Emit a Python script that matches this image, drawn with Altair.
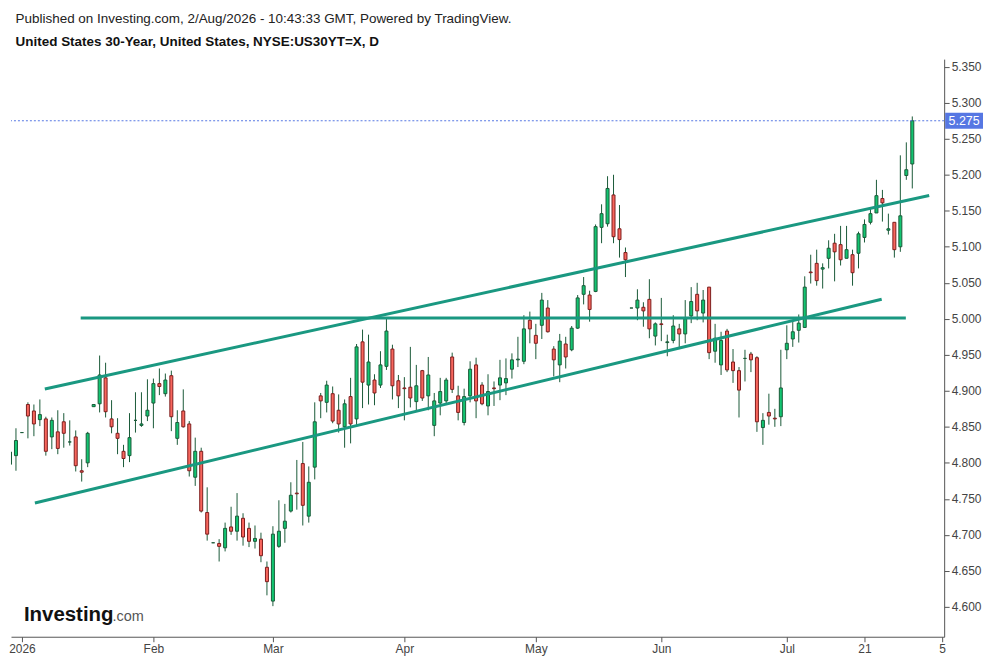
import altair as alt
import pandas as pd

# ---- daily candles (trading-day index, OHLC in %) ----
opens = [4.798, 4.810, 4.842, 4.881, 4.872, 4.860, 4.861, 4.836, 4.843, 4.857,
         4.829, 4.836, 4.789, 4.800, 4.878, 4.882, 4.918, 4.861, 4.841, 4.816,
         4.810, 4.859, 4.852, 4.865, 4.883, 4.910, 4.896, 4.921, 4.834, 4.872,
         4.854, 4.780, 4.816, 4.731, 4.689, 4.688, 4.682, 4.711, 4.705, 4.723,
         4.709, 4.691, 4.694, 4.655, 4.608, 4.684, 4.709, 4.733, 4.758, 4.799,
         4.726, 4.794, 4.893, 4.884, 4.896, 4.873, 4.850, 4.892, 4.861, 4.968,
         4.908, 4.915, 4.908, 4.934, 4.958, 4.914, 4.904, 4.905, 4.885, 4.928,
         4.893, 4.852, 4.883, 4.886, 4.947, 4.893, 4.856, 4.893, 4.936, 4.908,
         4.879, 4.904, 4.908, 4.911, 4.930, 4.943, 4.941, 4.998, 4.977, 4.991,
         5.015, 4.958, 4.936, 4.965, 4.957, 4.987, 5.034, 5.033, 5.038, 5.127,
         5.132, 5.172, 5.125, 5.092, 5.015, 5.015, 5.016, 5.027, 4.976, 4.993,
         4.967, 4.970, 4.986, 4.979, 5.004, 5.034, 5.008, 5.044, 4.955, 4.936,
         4.983, 4.940, 4.928, 4.945, 4.951, 4.946, 4.849, 4.870, 4.862, 4.864,
         4.957, 4.972, 4.984, 4.988, 5.065, 5.077, 5.069, 5.084, 5.105, 5.103,
         5.084, 5.089, 5.091, 5.113, 5.134, 5.147, 5.167, 5.123, 5.134, 5.100,
         5.199, 5.215]
highs = [4.820, 4.848, 4.842, 4.884, 4.881, 4.888, 4.864, 4.863, 4.873, 4.869,
         4.859, 4.845, 4.805, 4.843, 4.881, 4.949, 4.939, 4.887, 4.862, 4.825,
         4.869, 4.898, 4.898, 4.916, 4.917, 4.931, 4.924, 4.928, 4.873, 4.902,
         4.858, 4.835, 4.821, 4.766, 4.689, 4.694, 4.717, 4.739, 4.758, 4.730,
         4.717, 4.713, 4.703, 4.663, 4.712, 4.748, 4.743, 4.773, 4.804, 4.829,
         4.795, 4.884, 4.897, 4.914, 4.906, 4.895, 4.888, 4.918, 4.965, 4.985,
         4.978, 4.923, 4.955, 5.001, 4.964, 4.922, 4.919, 4.961, 4.936, 4.929,
         4.947, 4.897, 4.918, 4.918, 4.953, 4.907, 4.903, 4.941, 4.946, 4.912,
         4.923, 4.913, 4.943, 4.945, 4.952, 4.975, 5.005, 5.010, 4.993, 5.036,
         5.026, 4.962, 4.979, 4.975, 4.990, 5.033, 5.058, 5.039, 5.131, 5.159,
         5.198, 5.200, 5.158, 5.099, 5.015, 5.041, 5.023, 5.055, 4.995, 5.029,
         4.978, 5.005, 4.993, 5.026, 5.044, 5.050, 5.040, 5.044, 4.993, 4.982,
         4.986, 4.958, 4.933, 4.957, 4.954, 4.948, 4.869, 4.896, 4.875, 4.957,
         4.991, 4.998, 5.006, 5.059, 5.089, 5.096, 5.077, 5.109, 5.118, 5.129,
         5.129, 5.096, 5.121, 5.138, 5.154, 5.193, 5.179, 5.146, 5.134, 5.227,
         5.245, 5.281]
lows = [4.792, 4.789, 4.842, 4.834, 4.837, 4.851, 4.810, 4.819, 4.812, 4.821,
        4.824, 4.788, 4.774, 4.794, 4.878, 4.870, 4.863, 4.841, 4.812, 4.794,
        4.801, 4.842, 4.850, 4.858, 4.848, 4.894, 4.892, 4.844, 4.825, 4.849,
        4.781, 4.768, 4.731, 4.692, 4.689, 4.663, 4.677, 4.700, 4.692, 4.685,
        4.683, 4.681, 4.662, 4.616, 4.601, 4.682, 4.689, 4.731, 4.735, 4.713,
        4.717, 4.777, 4.862, 4.870, 4.855, 4.842, 4.821, 4.827, 4.852, 4.876,
        4.881, 4.880, 4.904, 4.929, 4.888, 4.876, 4.859, 4.877, 4.872, 4.886,
        4.873, 4.837, 4.866, 4.883, 4.897, 4.859, 4.852, 4.884, 4.862, 4.880,
        4.866, 4.879, 4.887, 4.894, 4.917, 4.933, 4.937, 4.966, 4.944, 4.972,
        4.981, 4.920, 4.912, 4.931, 4.955, 4.986, 5.020, 4.996, 5.037, 5.105,
        5.128, 5.105, 5.085, 5.058, 5.015, 4.998, 4.989, 4.973, 4.963, 4.969,
        4.948, 4.966, 4.958, 4.966, 4.994, 4.998, 4.995, 4.944, 4.939, 4.922,
        4.926, 4.911, 4.863, 4.913, 4.926, 4.843, 4.825, 4.853, 4.850, 4.851,
        4.944, 4.961, 4.967, 4.988, 5.049, 5.046, 5.042, 5.070, 5.052, 5.074,
        5.084, 5.046, 5.070, 5.106, 5.131, 5.147, 5.135, 5.117, 5.085, 5.093,
        5.193, 5.181]
closes = [4.815, 4.831, 4.842, 4.865, 4.854, 4.867, 4.816, 4.859, 4.820, 4.841,
          4.829, 4.796, 4.787, 4.841, 4.881, 4.922, 4.871, 4.850, 4.834, 4.806,
          4.835, 4.859, 4.854, 4.873, 4.910, 4.906, 4.915, 4.864, 4.856, 4.850,
          4.789, 4.816, 4.733, 4.701, 4.689, 4.684, 4.709, 4.705, 4.726, 4.697,
          4.691, 4.695, 4.671, 4.635, 4.701, 4.705, 4.719, 4.755, 4.757, 4.741,
          4.773, 4.857, 4.886, 4.908, 4.858, 4.854, 4.882, 4.854, 4.961, 4.912,
          4.940, 4.897, 4.936, 4.983, 4.907, 4.893, 4.903, 4.890, 4.907, 4.890,
          4.922, 4.886, 4.899, 4.915, 4.902, 4.870, 4.892, 4.930, 4.886, 4.882,
          4.899, 4.903, 4.918, 4.917, 4.943, 4.944, 4.986, 4.986, 4.966, 5.026,
          4.982, 4.943, 4.969, 4.947, 4.987, 5.029, 5.046, 5.013, 5.128, 5.146,
          5.181, 5.114, 5.110, 5.082, 5.015, 5.026, 5.011, 4.986, 4.993, 4.992,
          4.968, 4.990, 4.979, 5.000, 5.024, 5.011, 5.026, 4.953, 4.973, 4.970,
          4.929, 4.928, 4.901, 4.945, 4.943, 4.857, 4.859, 4.865, 4.861, 4.904,
          4.966, 4.982, 4.994, 5.044, 5.064, 5.053, 5.071, 5.098, 5.093, 5.082,
          5.096, 5.064, 5.118, 5.131, 5.146, 5.171, 5.161, 5.125, 5.096, 5.143,
          5.207, 5.275]

# ---- x-axis labels (bar index of first bar of each period) ----
tick_index = [2, 24, 44, 66, 88, 109, 130, 143, 156]
tick_labels = ["2026", "Feb", "Mar", "Apr", "May", "Jun", "Jul", "21", "5"]

# ---- y-axis ticks ----
y_ticks = [4.60, 4.65, 4.70, 4.75, 4.80, 4.85, 4.90, 4.95, 5.00,
           5.05, 5.10, 5.15, 5.20, 5.25, 5.30, 5.35]

# ---- trend lines drawn on the chart (bar index, yield) ----
line_ids = ["upper", "upper", "lower", "lower", "flat", "flat"]
line_x = [5.83, 153.83, 4.17, 145.88, 11.83, 149.92]
line_y = [4.9025, 5.1713, 4.7442, 5.0271, 5.001, 5.001]

df = pd.DataFrame({"idx": list(range(len(opens))), "open": opens, "high": highs,
                   "low": lows, "close": closes})
df["dir"] = ["up" if c >= o else "down" for o, c in zip(opens, closes)]
lines_df = pd.DataFrame({"id": line_ids, "x": line_x, "y": line_y})
last_df = pd.DataFrame({"close": [closes[-1]]})

FONT = "Liberation Sans"
GREEN, GREEN_DARK = "#12c571", "#1a5a38"
RED, RED_DARK = "#f8665d", "#7c1d1d"
TEAL = "#1a9881"
BLUE = "#5677e3"

label_expr = " : ".join(f"datum.value == {v} ? '{l}'" for v, l in zip(tick_index, tick_labels)) + " : ''"

xscale = alt.Scale(domain=[1 / 6, 938 / 6], nice=False, zero=False, padding=0)
yscale = alt.Scale(domain=[4.5585, 5.3606], nice=False, zero=False, padding=0)
xaxis = alt.Axis(values=tick_index, labelExpr=label_expr, grid=False, title=None,
                 domainColor="#555", tickColor="#555", tickSize=5, labelPadding=2,
                 labelColor="#444", labelFontSize=12, labelFont=FONT,
                 labelFlush=False, labelOverlap=False)
yaxis = alt.Axis(orient="right", values=y_ticks, format=".3f", grid=False, title=None,
                 domainColor="#555", tickColor="#555", tickSize=5, labelPadding=2,
                 labelColor="#444", labelFontSize=12, labelFont=FONT, labelOverlap=False)

base = alt.Chart(df).encode(x=alt.X("idx:Q", scale=xscale, axis=xaxis))

wicks = base.mark_rule(color=GREEN_DARK, strokeWidth=1, clip=True).encode(
    y=alt.Y("low:Q", scale=yscale, axis=yaxis), y2="high:Q")

bodies = base.mark_bar(size=3, strokeWidth=1, clip=True).encode(
    y=alt.Y("open:Q", scale=yscale, axis=yaxis), y2="close:Q",
    fill=alt.Fill("dir:N", scale=alt.Scale(domain=["up", "down"], range=[GREEN, RED]), legend=None),
    stroke=alt.Stroke("dir:N", scale=alt.Scale(domain=["up", "down"], range=[GREEN_DARK, RED_DARK]), legend=None))

trend = alt.Chart(lines_df).mark_line(color=TEAL, strokeWidth=3).encode(
    x=alt.X("x:Q", scale=xscale, axis=xaxis),
    y=alt.Y("y:Q", scale=yscale, axis=yaxis),
    detail="id:N")

last_rule = alt.Chart(last_df).mark_rule(color=BLUE, strokeWidth=1, strokeDash=[2, 2]).encode(
    y=alt.Y("close:Q", scale=yscale, axis=yaxis))

last_box = alt.Chart(last_df).mark_rect(color=BLUE, yOffset=-8, y2Offset=8).encode(
    x=alt.value(938), x2=alt.value(976),
    y=alt.Y("close:Q", scale=yscale, axis=yaxis), y2="close:Q")

last_text = alt.Chart(last_df).mark_text(color="white", font=FONT, fontSize=12.5,
                                         align="center", baseline="middle").encode(
    x=alt.value(957), y=alt.Y("close:Q", scale=yscale, axis=yaxis),
    text=alt.Text("close:Q", format=".3f"))

logo_main = alt.Chart(pd.DataFrame({"t": ["Investing"]})).mark_text(
    font=FONT, fontSize=20.5, fontWeight="bold", color="#111", align="left",
    baseline="alphabetic").encode(x=alt.value(13), y=alt.value(564), text="t:N")
logo_com = alt.Chart(pd.DataFrame({"t": [".com"]})).mark_text(
    font=FONT, fontSize=14.5, color="#555", align="left",
    baseline="alphabetic").encode(x=alt.value(102), y=alt.value(564), text="t:N")

chart = alt.layer(wicks, bodies, trend, last_rule, last_box, last_text, logo_main, logo_com).properties(
    width=937, height=580,
    background="white",
    padding={"left": 0, "top": 2, "right": 0, "bottom": 0},
    title=alt.TitleParams(
        text="Published on Investing.com, 2/Aug/2026 - 10:43:33 GMT, Powered by TradingView.",
        subtitle="United States 30-Year, United States, NYSE:US30YT=X, D",
        anchor="start", dx=7, font=FONT, fontSize=13.5, fontWeight="normal", color="#222",
        subtitleFont=FONT, subtitleFontSize=13.5, subtitleFontWeight="bold",
        subtitleColor="#111", subtitlePadding=9.5, offset=11),
).configure_view(strokeWidth=0, stroke=None)

chart.save("out.html", embed_options={"renderer": "svg", "actions": False})
